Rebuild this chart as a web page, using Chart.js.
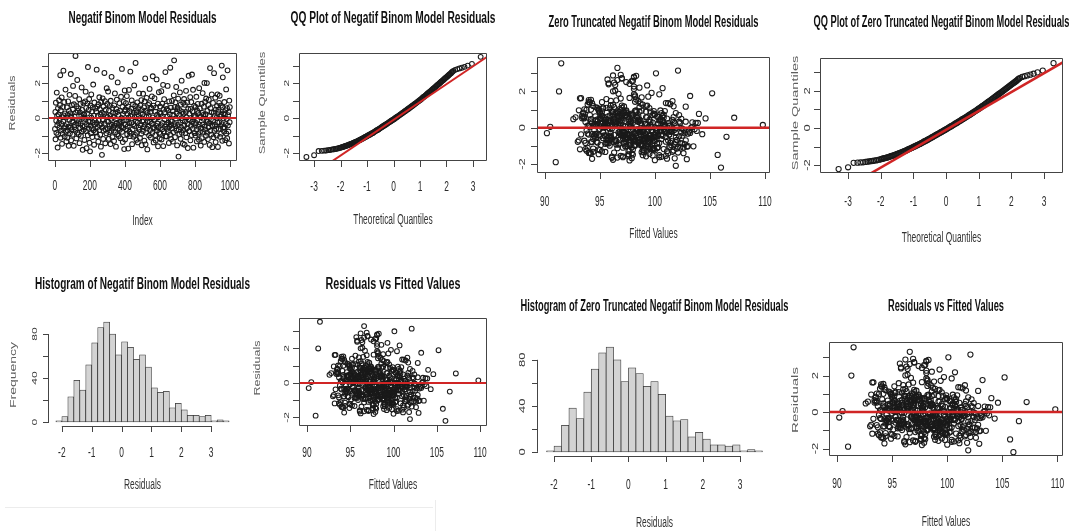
<!DOCTYPE html>
<html>
<head>
<meta charset="utf-8">
<script src="https://cdn.jsdelivr.net/npm/chart.js"></script>
<style>
  body { margin: 0; background: #fff; width: 1079px; height: 531px; overflow: hidden; position: relative; }
  canvas { position: absolute; }
  .edge { position: absolute; background: #ececec; }
</style>
</head>
<body>
<div class="edge" style="left:5px;top:507px;width:428px;height:1px"></div>
<div class="edge" style="left:435px;top:500px;width:1px;height:31px"></div>
<script>
// residuals in observation order (a thinned sample of the 1000 observations)
const residuals = [
  -0.62, 0.35, -1.21, 0.88, -0.15, -0.84, 1.46, 0.12, -0.41, -1.68, 0.57, -0.93, 0.21, -0.27, 1.02, -0.55, -0.08, 0.74, 2.45, -1.12,
  0.44, -0.71, -0.33, 1.18, -1.47, 0.06, -0.89, 0.63, -0.19, 2.71, 0.15, -0.58, 0.92, -1.05, 0.27, -0.46, 1.63, -0.77, 0.03, -1.33,
  -0.35, 0.62, -1.12, 0.18, -0.71, 0.95, -0.49, -1.58, 0.41, -0.08, 1.33, -0.87, 0.27, -0.55, 2.52, -1.27, 0.09, -0.64, 0.74, -0.21,
  -0.95, 0.51, 1.84, -0.24, -1.58, 0.79, -0.52, 0.09, -0.38, 1.27, 3.55, -0.66, 0.33, -1.16, 0.68, -0.11, 2.18, -0.83, 0.41, -0.29,
  0.56, -0.93, -0.16, 1.08, -1.43, 0.33, -0.58, 0.81, -0.30, -1.01, 0.14, 1.75, -0.76, 0.47, -0.45, -1.81, 0.02, 0.88, -0.67, 0.23,
  0.19, -1.25, -0.47, 0.96, -0.05, 1.51, -0.74, 0.58, -1.72, -0.35, 0.26, 0.84, -0.98, 2.92, -0.18, 0.47, -0.61, 1.09, -1.41, -0.22,
  -1.90, 0.72, -0.43, -0.86, 1.35, 0.02, -0.57, 0.38, -1.08, 0.61, -0.25, 1.92, -0.69, 0.14, -1.52, 0.89, -0.36, -0.13, 0.55, -0.79,
  -0.82, 0.38, -0.27, 2.77, -1.06, 0.66, -0.51, 0.11, -1.35, 0.79, -0.12, -0.69, 1.19, -0.40, 0.50, -0.95, 0.20, -1.63, 0.93, -0.33,
  0.31, -2.10, -0.54, 1.13, -0.09, -1.19, 0.66, -0.72, 0.24, 2.58, -0.31, 0.97, -1.44, -0.63, 0.48, 0.11, -0.87, 1.71, -0.16, 0.81,
  0.07, -0.60, 1.52, -0.20, -1.18, 0.44, -0.81, 0.70, -0.45, 0.16, -1.48, 0.99, -0.04, -0.73, 2.36, -0.38, 0.58, -1.09, 0.30, -0.56,
  -0.50, 0.07, -1.31, 0.73, -0.42, 1.41, -0.81, 0.29, -0.06, -1.63, 0.52, -0.28, 1.06, -0.92, 0.36, 2.04, -0.59, 0.18, -1.02, -0.39,
  -0.30, 0.86, -0.67, 0.43, -1.15, -0.20, 1.22, -0.48, 0.01, 2.81, -0.78, 0.64, -1.37, 0.23, -0.56, 0.93, -0.12, -1.77, 0.39, 1.58,
  -1.22, 0.49, -0.37, 0.85, -0.63, -0.13, 1.26, -0.92, 0.25, -0.47, 0.67, -1.74, 0.03, 1.61, -0.29, -0.78, 0.39, -1.03, 2.66, 0.12,
  -0.88, 0.54, -0.26, 1.01, -1.49, 0.17, -0.64, 0.78, -0.35, -1.06, 0.32, 1.87, -0.45, 0.05, -0.96, 0.69, 3.15, -0.17, 0.46, -1.24,
  0.34, -0.84, 0.90, -0.24, -1.39, 0.58, -0.54, 0.15, 1.41, -0.66, -0.02, -1.13, 0.73, -0.41, 0.28, -0.89, 1.03, -1.55, 0.46, -0.18,
  0.22, -0.73, 1.39, -0.14, -0.51, 0.61, -1.29, 0.95, -0.37, 2.27, -1.50, 0.42, -0.82, 0.08, 1.16, -0.60, -1.79, 0.30, -0.23, 0.76,
  -0.44, 0.13, -0.99, 0.85, 1.67, -0.21, -0.68, 0.37, -1.11, 0.59, 0.55, -0.32, 1.24, -0.85, 0.04, 2.39, -0.53, 0.71, -1.39, -0.10,
  -0.57, 1.14, -0.09, -0.97, 0.37, -1.28, 0.61, -0.44, 2.21, -0.70, 0.19, -0.31, 0.83, -1.61, 0.05, -0.52, 1.48, -0.83, 0.32, -1.16,
  0.67, -0.90, 0.25, -0.40, 1.54, -1.22, 0.10, -0.63, 0.83, -0.27, 1.90, -1.60, 0.49, -0.76, 1.08, -0.07, 0.34, -0.49, 2.63, -1.03,
  0.71, -0.36, -1.05, 0.53, -0.61, 0.10, 1.84, -0.79, 0.43, -0.26, -1.42, 0.96, -0.48, 0.22, -0.94, 2.88, -0.15, 0.60, -1.20, -0.40,
  -0.19, 0.98, -0.58, 0.40, -1.34, 0.20, -0.80, 1.30, 3.30, -0.34, 0.63, -1.09, -0.46, 0.90, -0.02, 1.78, -0.70, 0.28, -1.56, 0.51,
  0.60, -0.39, 1.11, -2.20, -0.65, 0.16, -0.91, 0.45, 1.47, -0.24, -1.18, 0.77, -0.53, 0.00, 2.14, -0.84, 0.35, -0.13, -1.46, 0.88,
  -0.68, 0.26, 1.09, -0.43, -1.52, 0.76, -0.19, -0.86, 0.35, 1.56, -1.10, 0.04, -0.58, 0.89, -0.33, -1.71, 0.52, -0.07, 2.42, -0.74,
  -0.74, 0.26, -0.11, 1.20, -1.27, 0.53, -0.43, 0.92, -0.97, 2.49, -0.22, 0.39, -0.60, 1.62, -1.69, 0.12, -0.31, 0.70, -0.86, 0.06,
  0.15, -1.00, 0.64, -0.28, 1.22, -0.65, -1.33, 0.42, -0.11, 0.81, -0.90, 0.29, -0.50, -1.24, 1.71, -0.37, 0.55, -0.80, 0.08, -1.57,
  0.05, -0.57, 0.82, -1.14, 0.30, -0.37, 1.43, -0.79, 0.18, -0.04, 0.65, -1.36, 2.01, -0.48, 0.94, -0.66, 0.22, -1.01, 1.12, -0.15,
  2.00, -0.83, 0.41, -0.20, -1.20, 0.75, -0.52, 1.05, -0.29, 0.13, -1.53, 2.86, -0.72, 0.57, -0.08, -0.94, 0.33, 1.35, -0.41, -1.66,
  -0.46, 0.87, -0.14, -1.09, 0.31, 2.57, -0.72, 0.13, -0.39, 1.17, -1.37, 0.48, -0.62, 0.01, -0.99, 0.70, -0.25, 1.36, -1.65, 0.36,
  0.48, -0.61, 0.87, -0.25, 1.28, -1.07, 0.09, -0.44, 0.71, -0.89, 0.19, 3.00, -0.35, -1.30, 0.62, 2.33, -0.56, 0.27, -0.01, -0.77,
  0.92, -0.53, 0.21, -1.26, 0.45, -0.35, 1.64, -0.88, -0.05, 0.57, -1.15, 2.73, -0.42, 0.17, -0.77, 0.34, -1.45, 1.00, -0.23, 0.63
];

// fitted values, same order as residuals
const fittedValues = [
  97.4, 94.2, 99.8, 96.1, 101.3, 93.7, 98.5, 95.4, 100.6, 97.9, 92.8, 96.7, 99.1, 102.4, 94.9, 98.0, 103.6, 97.1, 95.8, 100.2,
  96.3, 99.4, 93.9, 101.7, 97.6, 95.1, 98.8, 94.6, 100.9, 97.0, 109.8, 96.0, 99.9, 102.9, 95.5, 98.3, 93.3, 101.0, 97.7, 94.4,
  97.6, 95.2, 99.9, 96.4, 101.2, 98.3, 94.5, 97.1, 100.5, 95.9, 98.7, 96.8, 102.3, 99.4, 97.4, 93.8, 100.9, 98.0, 96.2, 101.6,
  98.2, 95.9, 100.4, 96.8, 99.2, 93.5, 101.9, 97.3, 94.0, 98.9, 91.5, 96.4, 102.2, 99.6, 95.2, 97.8, 100.7, 94.8, 98.6, 103.2,
  98.4, 96.5, 100.2, 94.8, 97.9, 99.6, 95.7, 101.9, 97.3, 98.9, 96.1, 103.2, 99.0, 94.2, 100.7, 97.7, 95.4, 98.6, 102.0, 96.9,
  95.6, 100.0, 97.2, 93.1, 98.7, 96.5, 101.5, 99.3, 94.3, 97.5, 103.9, 95.0, 98.1, 96.9, 100.5, 92.6, 99.0, 97.0, 102.6, 95.3,
  91.0, 97.9, 99.5, 95.7, 101.2, 94.1, 98.4, 96.2, 100.3, 93.6, 97.1, 99.7, 102.0, 95.4, 98.9, 96.6, 104.3, 94.5, 100.8, 97.4,
  99.5, 97.0, 95.3, 98.1, 101.4, 96.6, 100.0, 93.9, 98.8, 97.5, 102.6, 95.8, 99.2, 96.3, 101.1, 97.8, 94.6, 100.4, 98.2, 103.0,
  96.0, 101.9, 94.7, 98.6, 100.1, 93.2, 97.3, 99.9, 95.5, 98.0, 102.7, 96.9, 94.2, 99.1, 97.6, 101.4, 95.8, 98.2, 93.8, 100.6,
  96.7, 99.8, 94.0, 97.2, 100.8, 95.6, 98.5, 102.2, 96.0, 99.3, 97.6, 94.9, 101.5, 98.1, 96.4, 100.3, 93.5, 97.9, 103.4, 99.1,
  106.5, 97.8, 95.2, 100.0, 98.5, 94.0, 99.4, 96.3, 102.5, 97.1, 93.4, 101.1, 95.9, 98.8, 100.7, 96.4, 99.0, 94.6, 103.0, 97.5,
  90.2, 98.3, 96.8, 101.6, 94.4, 99.7, 97.0, 95.0, 100.4, 98.1, 93.0, 96.6, 102.1, 97.7, 99.3, 94.9, 101.8, 96.2, 98.7, 95.6,
  98.0, 95.0, 100.6, 97.4, 94.4, 99.7, 96.2, 101.8, 98.7, 95.5, 97.0, 102.9, 99.4, 96.9, 100.1, 94.7, 98.3, 97.3, 95.7, 101.3,
  97.2, 95.4, 99.8, 93.6, 98.0, 100.9, 96.1, 97.9, 94.3, 101.3, 98.5, 96.7, 99.5, 103.4, 95.1, 97.4, 102.1, 100.2, 94.8, 98.9,
  97.8, 100.4, 96.1, 98.9, 94.1, 101.7, 97.5, 99.6, 95.2, 98.2, 102.4, 96.6, 100.0, 97.1, 94.3, 99.3, 96.8, 101.0, 98.5, 103.8,
  99.2, 96.5, 94.1, 98.4, 101.0, 95.7, 97.6, 100.5, 93.3, 98.1, 105.7, 96.9, 99.6, 94.7, 102.8, 97.3, 100.0, 95.3, 98.6, 104.0,
  97.0, 94.5, 99.3, 96.2, 98.8, 101.5, 95.6, 97.8, 93.9, 100.3, 107.2, 98.2, 96.0, 102.3, 99.7, 95.8, 97.5, 100.8, 94.0, 98.4,
  99.7, 96.3, 98.4, 101.5, 95.9, 97.7, 100.2, 94.5, 98.6, 102.8, 96.5, 99.1, 97.2, 100.6, 95.4, 98.0, 96.0, 101.4, 93.7, 99.8,
  95.9, 98.7, 101.2, 97.3, 94.2, 99.0, 96.8, 100.6, 93.5, 98.3, 105.2, 96.1, 102.4, 97.7, 99.5, 95.0, 101.7, 98.0, 96.6, 103.5,
  96.9, 99.2, 102.1, 95.1, 97.9, 100.9, 98.1, 94.3, 99.5, 96.7, 101.2, 97.4, 95.8, 100.3, 98.8, 96.2, 103.1, 97.0, 99.9, 94.9,
  98.9, 93.8, 97.1, 100.4, 95.5, 99.1, 96.3, 101.4, 96.6, 94.6, 98.5, 102.6, 97.9, 95.2, 100.1, 98.2, 93.1, 99.8, 96.9, 104.6,
  97.5, 100.0, 95.3, 106.0, 98.6, 94.8, 99.4, 96.7, 101.6, 97.2, 93.7, 99.9, 96.0, 102.0, 98.1, 95.6, 100.7, 97.8, 94.9, 99.2,
  98.6, 101.8, 95.6, 97.5, 100.4, 96.4, 99.0, 102.5, 94.8, 98.3, 97.1, 100.8, 95.3, 99.6, 96.8, 101.1, 93.6, 98.0, 97.7, 100.0,
  96.4, 98.0, 101.0, 94.4, 99.3, 97.0, 95.4, 100.9, 98.7, 96.3, 103.1, 97.6, 99.6, 93.2, 101.8, 95.7, 98.4, 94.1, 100.2, 97.3,
  95.7, 98.2, 100.7, 96.0, 99.3, 97.3, 101.6, 94.6, 98.9, 96.5, 102.7, 97.8, 100.1, 95.0, 99.4, 96.9, 98.4, 101.9, 94.0, 97.6,
  90.5, 97.9, 95.0, 99.5, 96.5, 101.3, 98.2, 94.2, 100.6, 97.0, 93.4, 99.0, 96.2, 102.2, 98.8, 95.9, 100.3, 97.4, 94.7, 99.7,
  91.3, 98.5, 96.0, 100.5, 94.9, 97.7, 99.2, 95.3, 101.9, 97.1, 99.8, 98.3, 93.6, 96.8, 100.8, 97.6, 102.8, 94.3, 99.0, 96.1,
  100.3, 96.8, 98.7, 102.3, 95.5, 97.9, 99.1, 94.4, 101.3, 97.2, 96.3, 100.5, 98.1, 103.3, 95.9, 99.8, 97.0, 101.0, 96.6, 98.5,
  95.1, 98.9, 97.2, 100.9, 93.9, 99.4, 96.4, 102.5, 98.0, 95.5, 97.8, 100.1, 94.6, 101.1, 96.7, 99.3, 97.4, 103.7, 95.8, 98.6,
  97.4, 99.9, 95.2, 101.7, 98.6, 94.7, 97.7, 100.2, 96.1, 99.2, 102.0, 97.0, 95.6, 100.9, 98.2, 96.4, 99.5, 94.2, 101.4, 97.9
];

// normal QQ plot
const qqTheoretical = [
  -3.29, -3.00, -2.83, -2.71, -2.62, -2.54, -2.47, -2.41, -2.35, -2.30, -2.25, -2.20, -2.15, -2.10, -2.05, -2.00,
  -1.94, -1.88, -1.82, -1.76, -1.70, -1.64, -1.58, -1.52, -1.46, -1.40, -1.34, -1.28, -1.22, -1.16, -1.10, -1.04,
  -0.98, -0.92, -0.86, -0.80, -0.74, -0.68, -0.62, -0.56, -0.50, -0.44, -0.38, -0.32, -0.26, -0.20, -0.14, -0.08,
  -0.02, 0.04, 0.10, 0.16, 0.22, 0.28, 0.34, 0.40, 0.46, 0.52, 0.58, 0.64, 0.70, 0.76, 0.82, 0.88, 0.94, 1.00,
  1.06, 1.12, 1.18, 1.24, 1.30, 1.36, 1.42, 1.48, 1.54, 1.60, 1.66, 1.72, 1.78, 1.84, 1.90, 1.96, 2.02, 2.08,
  2.14, 2.20, 2.26, 2.33, 2.41, 2.49, 2.58, 2.68, 2.80, 2.96, 3.29,
  -1.97, -1.91, -1.85, -1.79, -1.73, -1.67, -1.61, -1.55, -1.49, -1.43, -1.37, -1.31, -1.25, -1.19, -1.13, -1.07,
  -1.01, -0.95, -0.89, -0.83, -0.77, -0.71, -0.65, -0.59, -0.53, -0.47, -0.41, -0.35, -0.29, -0.23, -0.17, -0.11,
  -0.05, 0.01, 0.07, 0.13, 0.19, 0.25, 0.31, 0.37, 0.43, 0.49, 0.55, 0.61, 0.67, 0.73, 0.79, 0.85, 0.91, 0.97,
  1.03, 1.09, 1.15, 1.21, 1.27, 1.33, 1.39, 1.45, 1.51, 1.57, 1.63, 1.69, 1.75, 1.81, 1.87, 1.93, 1.99, 2.05,
  2.11, 2.17, 2.23
];
const qqSample = [
  -2.22, -2.12, -1.88, -1.87, -1.86, -1.85, -1.83, -1.82, -1.80, -1.79, -1.78, -1.76, -1.75, -1.73, -1.71, -1.69,
  -1.66, -1.63, -1.60, -1.57, -1.53, -1.50, -1.46, -1.42, -1.38, -1.34, -1.30, -1.25, -1.21, -1.16, -1.11, -1.06,
  -1.01, -0.96, -0.91, -0.86, -0.80, -0.74, -0.69, -0.63, -0.57, -0.51, -0.45, -0.39, -0.33, -0.27, -0.21, -0.15,
  -0.09, -0.03, 0.04, 0.10, 0.16, 0.23, 0.29, 0.36, 0.42, 0.49, 0.55, 0.62, 0.69, 0.76, 0.83, 0.90, 0.97, 1.04,
  1.11, 1.19, 1.26, 1.34, 1.42, 1.49, 1.57, 1.65, 1.73, 1.81, 1.89, 1.97, 2.05, 2.13, 2.21, 2.29, 2.37, 2.45,
  2.53, 2.62, 2.70, 2.76, 2.80, 2.84, 2.88, 2.93, 3.00, 3.10, 3.50,
  -1.67, -1.64, -1.61, -1.58, -1.55, -1.51, -1.48, -1.44, -1.40, -1.36, -1.32, -1.27, -1.23, -1.18, -1.13, -1.08,
  -1.03, -0.98, -0.93, -0.88, -0.83, -0.77, -0.71, -0.66, -0.60, -0.54, -0.48, -0.42, -0.36, -0.30, -0.24, -0.18,
  -0.12, -0.06, 0.01, 0.07, 0.13, 0.20, 0.26, 0.33, 0.39, 0.46, 0.52, 0.59, 0.66, 0.72, 0.79, 0.86, 0.93, 1.00,
  1.07, 1.15, 1.22, 1.30, 1.38, 1.45, 1.53, 1.61, 1.69, 1.77, 1.85, 1.93, 2.01, 2.09, 2.17, 2.25, 2.33, 2.41,
  2.49, 2.57, 2.66
];
const qqLineX = [-4.2, 4.2];
const qqLineY = [-4.38, 4.18];

// histogram, bins of width 0.2 from -2.2 to 3.6
const histMids = [-2.1, -1.9, -1.7, -1.5, -1.3, -1.1, -0.9, -0.7, -0.5, -0.3, -0.1, 0.1, 0.3, 0.5, 0.7,
  0.9, 1.1, 1.3, 1.5, 1.7, 1.9, 2.1, 2.3, 2.5, 2.7, 2.9, 3.1, 3.3, 3.5];
const histCounts = [1, 5, 23, 38, 29, 52, 72, 86, 91, 80, 61, 73, 68, 57, 61,
  50, 31, 27, 28, 13, 17, 11, 6, 6, 5, 6, 1, 2, 1];

// zero reference line (abline h = 0)
const zeroLineY = [0, 0];
const indexLineX = [-100, 1100];
const fittedLineX = [80, 120];

// tick values
const indexTicks = [0, 200, 400, 600, 800, 1000];
const qqTicks = [-3, -2, -1, 0, 1, 2, 3];
const fittedTicks = [90, 95, 100, 105, 110];
const residTicks = [-2, -1, 0, 1, 2, 3];
const residLabels = [-2, 0, 2];
const histTicks = [-2, -1, 0, 1, 2, 3];
const freqTicks = [0, 20, 40, 60, 80];
const freqLabels = [0, 40, 80];

// observation number of each sampled residual
const obsIndex = residuals.map((_, i) => Math.round((i + 0.5) * 1000 / residuals.length));

const FONT = '"Liberation Sans", Arial, sans-serif';
const TICK = 6;

const panels = [
  { kind: 'index', left: 0, top: 0, w: 250, h: 265, box: [48, 53, 237, 161],
    xr: [-39, 1040], yr: [-2.45, 3.72], xTicks: indexTicks, yTicks: residTicks, yLabels: residLabels,
    title: 'Negatif Binom Model Residuals', titleY: 19, titleW: 148,
    xTitle: 'Index', xTitleY: 221, xLabelY: 186, yLabelX: 38, yTickSize: 12,
    yTitle: 'Residuals', yTitleX: 13, yTitleY: 103, yTitleSize: 12.5, r: 2.4, lw: 2 },
  { kind: 'qq', left: 250, top: 0, w: 250, h: 265, box: [299, 53, 487, 161],
    xr: [-3.57, 3.53], yr: [-2.45, 3.72], xTicks: qqTicks, yTicks: residTicks, yLabels: residLabels,
    title: 'QQ Plot of Negatif Binom Model Residuals', titleY: 19, titleW: 205,
    xTitle: 'Theoretical Quantiles', xTitleY: 220, xLabelY: 187, yLabelX: 287, yTickSize: 12,
    yTitle: 'Sample Quantiles', yTitleX: 263, yTitleY: 103, yTitleSize: 13, r: 2.4, lw: 2 },
  { kind: 'fitted', left: 500, top: 0, w: 290, h: 265, box: [537, 57, 770, 173],
    xr: [89.3, 110.45], yr: [-2.5, 3.9], xTicks: fittedTicks, yTicks: residTicks, yLabels: residLabels,
    title: 'Zero Truncated Negatif Binom Model Residuals', titleY: 23, titleW: 210,
    xTitle: 'Fitted Values', xTitleY: 234, xLabelY: 202, yLabelX: 523, yTickSize: 13,
    yTitle: null, r: 2.6, lw: 2.5 },
  { kind: 'qq', left: 790, top: 0, w: 289, h: 265, box: [820, 58, 1063, 173],
    xr: [-3.86, 3.58], yr: [-2.43, 3.78], xTicks: qqTicks, yTicks: residTicks, yLabels: residLabels,
    title: 'QQ Plot of Zero Truncated Negatif Binom Model Residuals', titleY: 23, titleW: 256,
    xTitle: 'Theoretical Quantiles', xTitleY: 238, xLabelY: 202, yLabelX: 808, yTickSize: 13,
    yTitle: 'Sample Quantiles', yTitleX: 795, yTitleY: 113, yTitleSize: 14.5, r: 2.6, lw: 2.5 },
  { kind: 'hist', left: 0, top: 265, w: 250, h: 266, box: [49, 318, 236, 426],
    xr: [-2.43, 3.83], yr: [-3.6, 94.6], xTicks: histTicks, yTicks: freqTicks, yLabels: freqLabels,
    title: 'Histogram of Negatif Binom Model Residuals', titleY: 285, titleW: 215,
    xTitle: 'Residuals', xTitleY: 485, xLabelY: 453, yLabelX: 35, yTickSize: 12,
    yTitle: 'Frequency', yTitleX: 13, yTitleY: 375, yTitleSize: 14 },
  { kind: 'fitted', left: 250, top: 265, w: 250, h: 266, box: [299, 318, 487, 426],
    xr: [89.08, 110.8], yr: [-2.5, 3.77], xTicks: fittedTicks, yTicks: residTicks, yLabels: residLabels,
    title: 'Residuals vs Fitted Values', titleY: 285, titleW: 135,
    xTitle: 'Fitted Values', xTitleY: 485, xLabelY: 453, yLabelX: 287, yTickSize: 12,
    yTitle: 'Residuals', yTitleX: 258, yTitleY: 368, yTitleSize: 12.5, r: 2.4, lw: 2 },
  { kind: 'hist', left: 500, top: 265, w: 290, h: 266, box: [538, 343, 771, 456],
    xr: [-2.43, 3.83], yr: [-3.6, 94.6], xTicks: histTicks, yTicks: freqTicks, yLabels: freqLabels,
    title: 'Histogram of Zero Truncated Negatif Binom Model Residuals', titleY: 307, titleW: 268,
    xTitle: 'Residuals', xTitleY: 523, xLabelY: 485, yLabelX: 523, yTickSize: 13,
    yTitle: null },
  { kind: 'fitted', left: 790, top: 265, w: 289, h: 266, box: [829, 342, 1063, 456],
    xr: [89.27, 110.5], yr: [-2.41, 3.84], xTicks: fittedTicks, yTicks: residTicks, yLabels: residLabels,
    title: 'Residuals vs Fitted Values', titleY: 307, titleW: 116,
    xTitle: 'Fitted Values', xTitleY: 522, xLabelY: 484, yLabelX: 816, yTickSize: 13,
    yTitle: 'Residuals', yTitleX: 795, yTitleY: 400, yTitleSize: 15, r: 2.6, lw: 2.5 }
];

// condensed text (the source image is squeezed horizontally)
function drawText(ctx, text, x, y, o) {
  ctx.save();
  ctx.font = (o.bold ? 'bold ' : '') + o.size + 'px ' + FONT;
  ctx.fillStyle = o.color || '#222';
  ctx.textAlign = 'center';
  ctx.textBaseline = 'middle';
  let sx = o.sx || 0.6;
  if (o.width) sx = o.width / ctx.measureText(text).width;
  ctx.translate(x, y);
  ctx.scale(sx, 1);
  if (o.rotate) ctx.rotate(-Math.PI / 2);
  ctx.fillText(text, 0, 0);
  ctx.restore();
}

function rAxes(p) {
  return {
    id: 'rAxes',
    afterDraw(chart) {
      const ctx = chart.ctx, a = chart.chartArea;
      const xs = chart.scales.x, ys = chart.scales.y;
      ctx.save();
      ctx.strokeStyle = '#444';
      ctx.lineWidth = 1;
      ctx.beginPath();
      if (p.kind === 'hist') {
        const x0 = xs.getPixelForValue(p.xTicks[0]);
        const x1 = xs.getPixelForValue(p.xTicks[p.xTicks.length - 1]);
        ctx.moveTo(x0, a.bottom + 0.5); ctx.lineTo(x1, a.bottom + 0.5);
        const y0 = ys.getPixelForValue(p.yTicks[0]);
        const y1 = ys.getPixelForValue(p.yTicks[p.yTicks.length - 1]);
        ctx.moveTo(a.left - 0.5, y0); ctx.lineTo(a.left - 0.5, y1);
      } else {
        ctx.rect(a.left + 0.5, a.top + 0.5, a.right - a.left - 1, a.bottom - a.top - 1);
      }
      p.xTicks.forEach(v => {
        const px = Math.round(xs.getPixelForValue(v)) + 0.5;
        ctx.moveTo(px, a.bottom); ctx.lineTo(px, a.bottom + TICK);
      });
      p.yTicks.forEach(v => {
        const py = Math.round(ys.getPixelForValue(v)) + 0.5;
        ctx.moveTo(a.left, py); ctx.lineTo(a.left - TICK, py);
      });
      ctx.stroke();
      ctx.restore();

      p.xTicks.forEach(v => drawText(ctx, String(v), xs.getPixelForValue(v), p.xLabelY - p.top,
        { size: 14, sx: 0.6, color: '#2a2a2a' }));
      p.yLabels.forEach(v => drawText(ctx, String(v), p.yLabelX - p.left, ys.getPixelForValue(v),
        { size: p.yTickSize, sx: 0.66, rotate: true, color: '#3a3a3a' }));
      drawText(ctx, p.title, (a.left + a.right) / 2, p.titleY - p.top,
        { size: 16, bold: true, width: p.titleW, color: '#111' });
      drawText(ctx, p.xTitle, (a.left + a.right) / 2, p.xTitleY - p.top,
        { size: 14, sx: 0.6, color: '#333' });
      if (p.yTitle) {
        drawText(ctx, p.yTitle, p.yTitleX - p.left, p.yTitleY - p.top,
          { size: p.yTitleSize, sx: 0.66, rotate: true, color: '#5e5e5e' });
      }
    }
  };
}

function pointSet(points, p) {
  return {
    data: points, order: 1,
    pointRadius: p.r, pointBorderWidth: 1.05,
    pointBorderColor: '#1a1a1a', pointBackgroundColor: 'rgba(0,0,0,0)'
  };
}

function lineSet(xv, yv, p) {
  return {
    data: xv.map((x, i) => ({ x: x, y: yv[i] })), order: 0,
    showLine: true, pointRadius: 0, borderColor: '#d02525', borderWidth: p.lw
  };
}

function buildDatasets(p) {
  if (p.kind === 'index') {
    return [pointSet(residuals.map((r, i) => ({ x: obsIndex[i], y: r })), p),
            lineSet(indexLineX, zeroLineY, p)];
  }
  if (p.kind === 'fitted') {
    return [pointSet(fittedValues.map((f, i) => ({ x: f, y: residuals[i] })), p),
            lineSet(fittedLineX, zeroLineY, p)];
  }
  if (p.kind === 'qq') {
    return [pointSet(qqTheoretical.map((t, i) => ({ x: t, y: qqSample[i] })), p),
            lineSet(qqLineX, qqLineY, p)];
  }
  return [{
    data: histMids.map((m, i) => ({ x: m, y: histCounts[i] })),
    backgroundColor: '#d3d3d3', borderColor: '#333', borderWidth: 0.75,
    borderSkipped: false, barPercentage: 1, categoryPercentage: 1
  }];
}

panels.forEach(p => {
  const cv = document.createElement('canvas');
  cv.width = p.w; cv.height = p.h;
  cv.style.left = p.left + 'px';
  cv.style.top = p.top + 'px';
  cv.style.width = p.w + 'px';
  cv.style.height = p.h + 'px';
  document.body.appendChild(cv);
  const [bl, bt, br, bb] = p.box;
  new Chart(cv, {
    type: p.kind === 'hist' ? 'bar' : 'scatter',
    data: { datasets: buildDatasets(p) },
    options: {
      responsive: false,
      animation: false,
      events: [],
      layout: {
        padding: { left: bl - p.left, top: bt - p.top, right: p.left + p.w - br, bottom: p.top + p.h - bb }
      },
      plugins: { legend: { display: false }, tooltip: { enabled: false }, title: { display: false } },
      scales: {
        x: { type: 'linear', display: false, offset: false, min: p.xr[0], max: p.xr[1] },
        y: { type: 'linear', display: false, min: p.yr[0], max: p.yr[1] }
      }
    },
    plugins: [rAxes(p)]
  });
});
</script>
</body>
</html>
